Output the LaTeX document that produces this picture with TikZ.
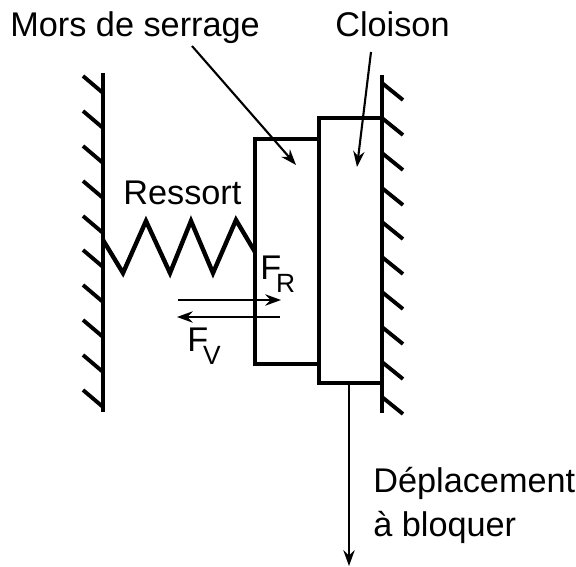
\documentclass[tikz,border=0pt]{standalone}
\usepackage{fontspec}
\setmainfont{Liberation Sans}
\usetikzlibrary{arrows.meta}
\tikzset{
  wall/.style={line width=2.5pt},
  hatch/.style={line width=2.2pt},
  force/.style={line width=1.2pt,-{Stealth[length=9pt,width=6.5pt,inset=3pt]}},
  label/.style={inner sep=0pt,anchor=base west}
}
\newcommand{\subtxt}[1]{\kern-3pt\raisebox{-7.4pt}{\fontsize{15}{15}\selectfont #1}}

\begin{document}
\begin{tikzpicture}[x=0.02cm,y=-0.02cm,font=\fontsize{19.5}{23}\selectfont]
  \useasboundingbox (0,0) rectangle (576,567);
  \draw[wall] (103,73)--(103,412) (382,75)--(382,413);
  \foreach \y in {76,111,146,181,216,250,285,320,355,390}
    \draw[hatch] (83,\y)--(103,\y+17);
  \foreach \y in {83,118,153,188,222,257,292,327,362,397}
    \draw[hatch] (382,\y)--(403,\y+17);
  \draw[wall] (319,139)--(255,139)--(255,364)--(319,364);
  \draw[wall] (319,118) rectangle (382,383);
  \draw[wall,line join=miter] (103,240)--(123,273)--(146,221)--(170,273)--(191,221)
    --(213,273)--(236,220)--(255,252);
  \node[label] (mors) at (10,37) {Mors de serrage};
  \node[label] (cloison) at (335,37) {Cloison};
  \node[label] (ressort) at (123,205) {Ressort};
  \node[label] (fr) at (260,280) {F\subtxt{R}};
  \node[label] (fv) at (187,352) {F\subtxt{V}};
  \node[label] (depl) at (373,493) {Déplacement};
  \node[label] (bloquer) at (373,537) {à bloquer};
  \coordinate (morsa) at (192,46);
  \coordinate (morsb) at (296,165);
  \coordinate (cloisona) at (371,52);
  \coordinate (cloisonb) at (357,167);
  \coordinate (fra) at (178,300);
  \coordinate (frb) at (281,300);
  \coordinate (fva) at (280,317);
  \coordinate (fvb) at (177,317);
  \coordinate (depla) at (349,383);
  \coordinate (deplb) at (349,566);
  \draw[force] (morsa)--(morsb);
  \draw[force] (cloisona)--(cloisonb);
  \draw[force] (fra)--(frb);
  \draw[force] (fva)--(fvb);
  \draw[force] (depla)--(deplb);
\end{tikzpicture}
\end{document}
